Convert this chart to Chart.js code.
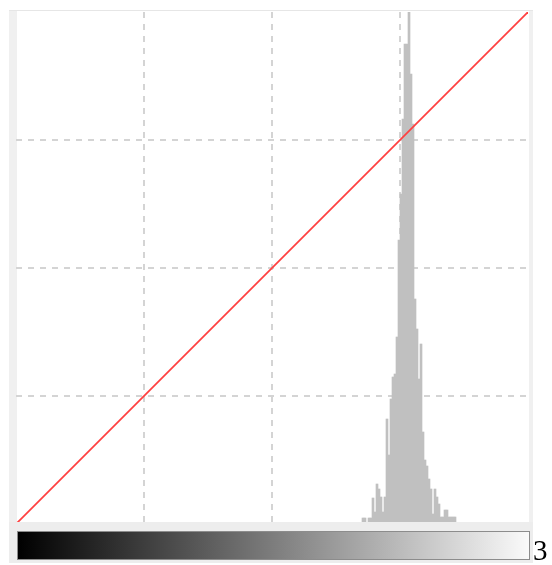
<!DOCTYPE html>
<html>
<head>
<meta charset="utf-8">
<script src="https://cdn.jsdelivr.net/npm/chart.js@4/dist/chart.umd.min.js"></script>
<style>
body{margin:0;background:#fff;width:552px;height:565px;overflow:hidden;position:relative}
#frame{position:absolute;left:9px;top:10px;width:524px;height:553px;background:#f0f0f0;border-top:1px solid #e6e6e6;box-sizing:border-box}
#plotbg{position:absolute;left:17px;top:11px;width:512px;height:511px;background:#fff}
#hist{position:absolute;left:0;top:0;z-index:2}
#band{position:absolute;left:9px;top:522px;width:524px;height:41px;background:#ededed;z-index:3}
#ramp{position:absolute;left:17px;top:531px;width:511px;height:27px;border:1px solid #8c8c8c;background:linear-gradient(to right,#000,#fafafa);z-index:4}
#lvl{position:absolute;left:533px;top:536px;font:29px "Liberation Serif",serif;line-height:29px;color:#000;z-index:5}
</style>
</head>
<body>
<div id="frame"></div>
<div id="plotbg"></div>
<canvas id="hist" width="552" height="565"></canvas>
<div id="band"></div>
<div id="ramp"></div>
<div id="lvl">3</div>
<script>

// grey levels that have pixels, and their counts (scaled to the 0-256 axis)
const levels=[173,174,175,176,177,178,179,180,181,182,183,184,185,186,187,188,
189,190,191,192,193,194,195,196,197,198,199,200,201,202,203,204,
205,206,207,208,209,210,211,212,213,214,215,216,217,218,219]

const counts=[3,3,0,3,3,13,6,20,17.5,13.5,6,13.5,52.5,34.5,62.5,73.5,
75,93.5,142,165,202.5,240,240,300,225,200,112.5,97.5,72.5,90,46,32,
29,22.5,17.5,5,17.5,13.5,10,3.5,3.5,7,7,3.5,3.5,3.5,3.5]

// tone curve: input -> output (identity)
const curveIn=[0,256]
const curveOut=[0,256]

// dashed grid, but no line on the outer edges
const gridLines={
color:c=>(c.tick&&c.tick.value%256!==0?"#d4d4d4":"transparent"),
lineWidth:2,
drawTicks:false,
offset:false
}

new Chart(document.getElementById("hist"),{
type:"bar",
data:{
datasets:[
{
type:"line",
data:curveIn.map((v,i)=>({x:v,y:curveOut[i]})),
borderColor:"#ff4040",
borderWidth:1.8,
pointRadius:0,
order:0
},
{
type:"bar",
data:levels.map((l,i)=>({x:l+0.5,y:counts[i]})),
backgroundColor:"#c0c0c0",
barPercentage:1,
categoryPercentage:1,
order:1
}
]
},
options:{
responsive:false,
animation:false,
events:[],
layout:{padding:{left:16,top:12,right:24,bottom:41}},
plugins:{legend:{display:false},tooltip:{enabled:false}},
scales:{
x:{
type:"linear",min:0,max:256,offset:false,
ticks:{display:false,stepSize:64},
grid:gridLines,
border:{display:false,dash:[6,6]},
z:1,
afterFit(s){s.height=0}
},
y:{
type:"linear",min:0,max:256,
ticks:{display:false,stepSize:64},
grid:gridLines,
border:{display:false,dash:[6,6]},
z:1,
afterFit(s){s.width=0}
}
}
}
})

</script>
</body>
</html>
